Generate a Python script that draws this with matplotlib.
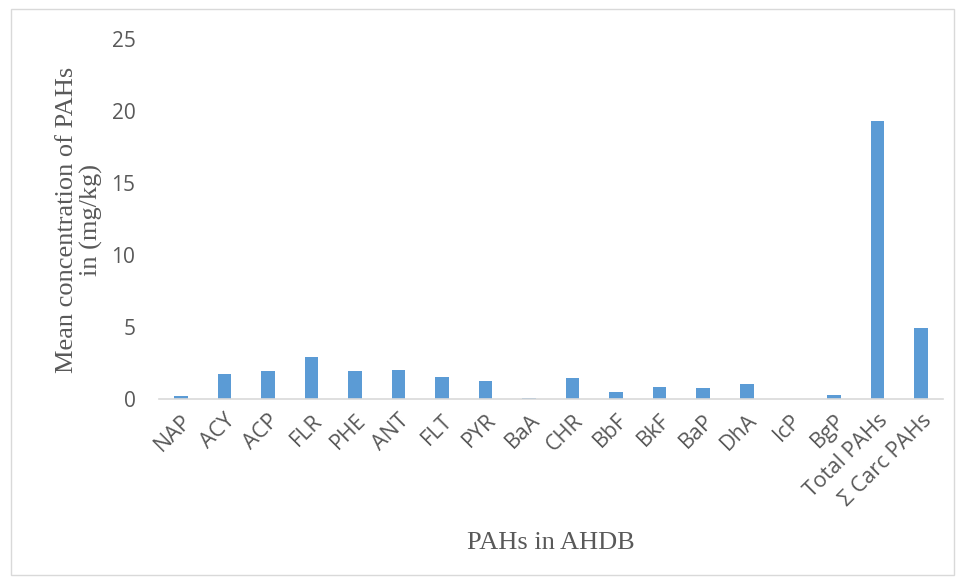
import matplotlib.pyplot as plt
import numpy as np

compounds = ["NAP", "ACY", "ACP", "FLR", "PHE", "ANT", "FLT", "PYR", "BaA",
             "CHR", "BbF", "BkF", "BaP", "DhA", "IcP", "BgP",
             "Total PAHs", "Σ Carc PAHs"]
mean_conc = [0.18, 1.76, 1.94, 2.94, 1.94, 2.03, 1.55, 1.27, 0.09,
             1.48, 0.51, 0.83, 0.74, 1.06, 0.0, 0.30,
             19.33, 4.95]
y_ticks = [0, 5, 10, 15, 20, 25]

grey = "#595959"

fig = plt.figure(figsize=(9.58, 5.82), dpi=100)
ax = fig.add_axes([0.166, 0.3144, 0.818, 0.6186])

x = np.arange(len(compounds))
ax.bar(x, mean_conc, width=0.31, color="#5B9BD5")

ax.set_xlim(-0.5, len(compounds) - 0.5)
ax.set_ylim(0, 25)
ax.set_yticks(y_ticks)
ax.set_xticks(x)
ax.set_xticklabels(compounds, rotation=45, ha="right", rotation_mode="anchor",
                   family="Open Sans", fontsize=15.5, color=grey)
for lab in ax.get_yticklabels():
    lab.set_family("Open Sans")
    lab.set_fontsize(15)
    lab.set_color(grey)

ax.tick_params(axis="both", length=0)
ax.tick_params(axis="y", pad=17)
ax.tick_params(axis="x", pad=8)

for s in ["top", "right", "left"]:
    ax.spines[s].set_visible(False)
ax.spines["bottom"].set_color("#D9D9D9")
ax.spines["bottom"].set_linewidth(1.2)

fig.text(0.575, 0.067, "PAHs in AHDB", ha="center", va="center",
         family="Liberation Serif", fontsize=19, color=grey)
fig.text(0.083, 0.622, "Mean concentration of PAHs\nin (mg/kg)", ha="center",
         va="center", rotation=90, family="Liberation Serif", fontsize=19,
         color=grey, linespacing=1.1)

# light outer border like the exported chart frame
fig.patches.append(plt.Rectangle((0.011, 0.012), 0.985, 0.972, transform=fig.transFigure,
                                 fill=False, edgecolor="#D9D9D9", linewidth=1))

fig.savefig("out.png", dpi=100)
